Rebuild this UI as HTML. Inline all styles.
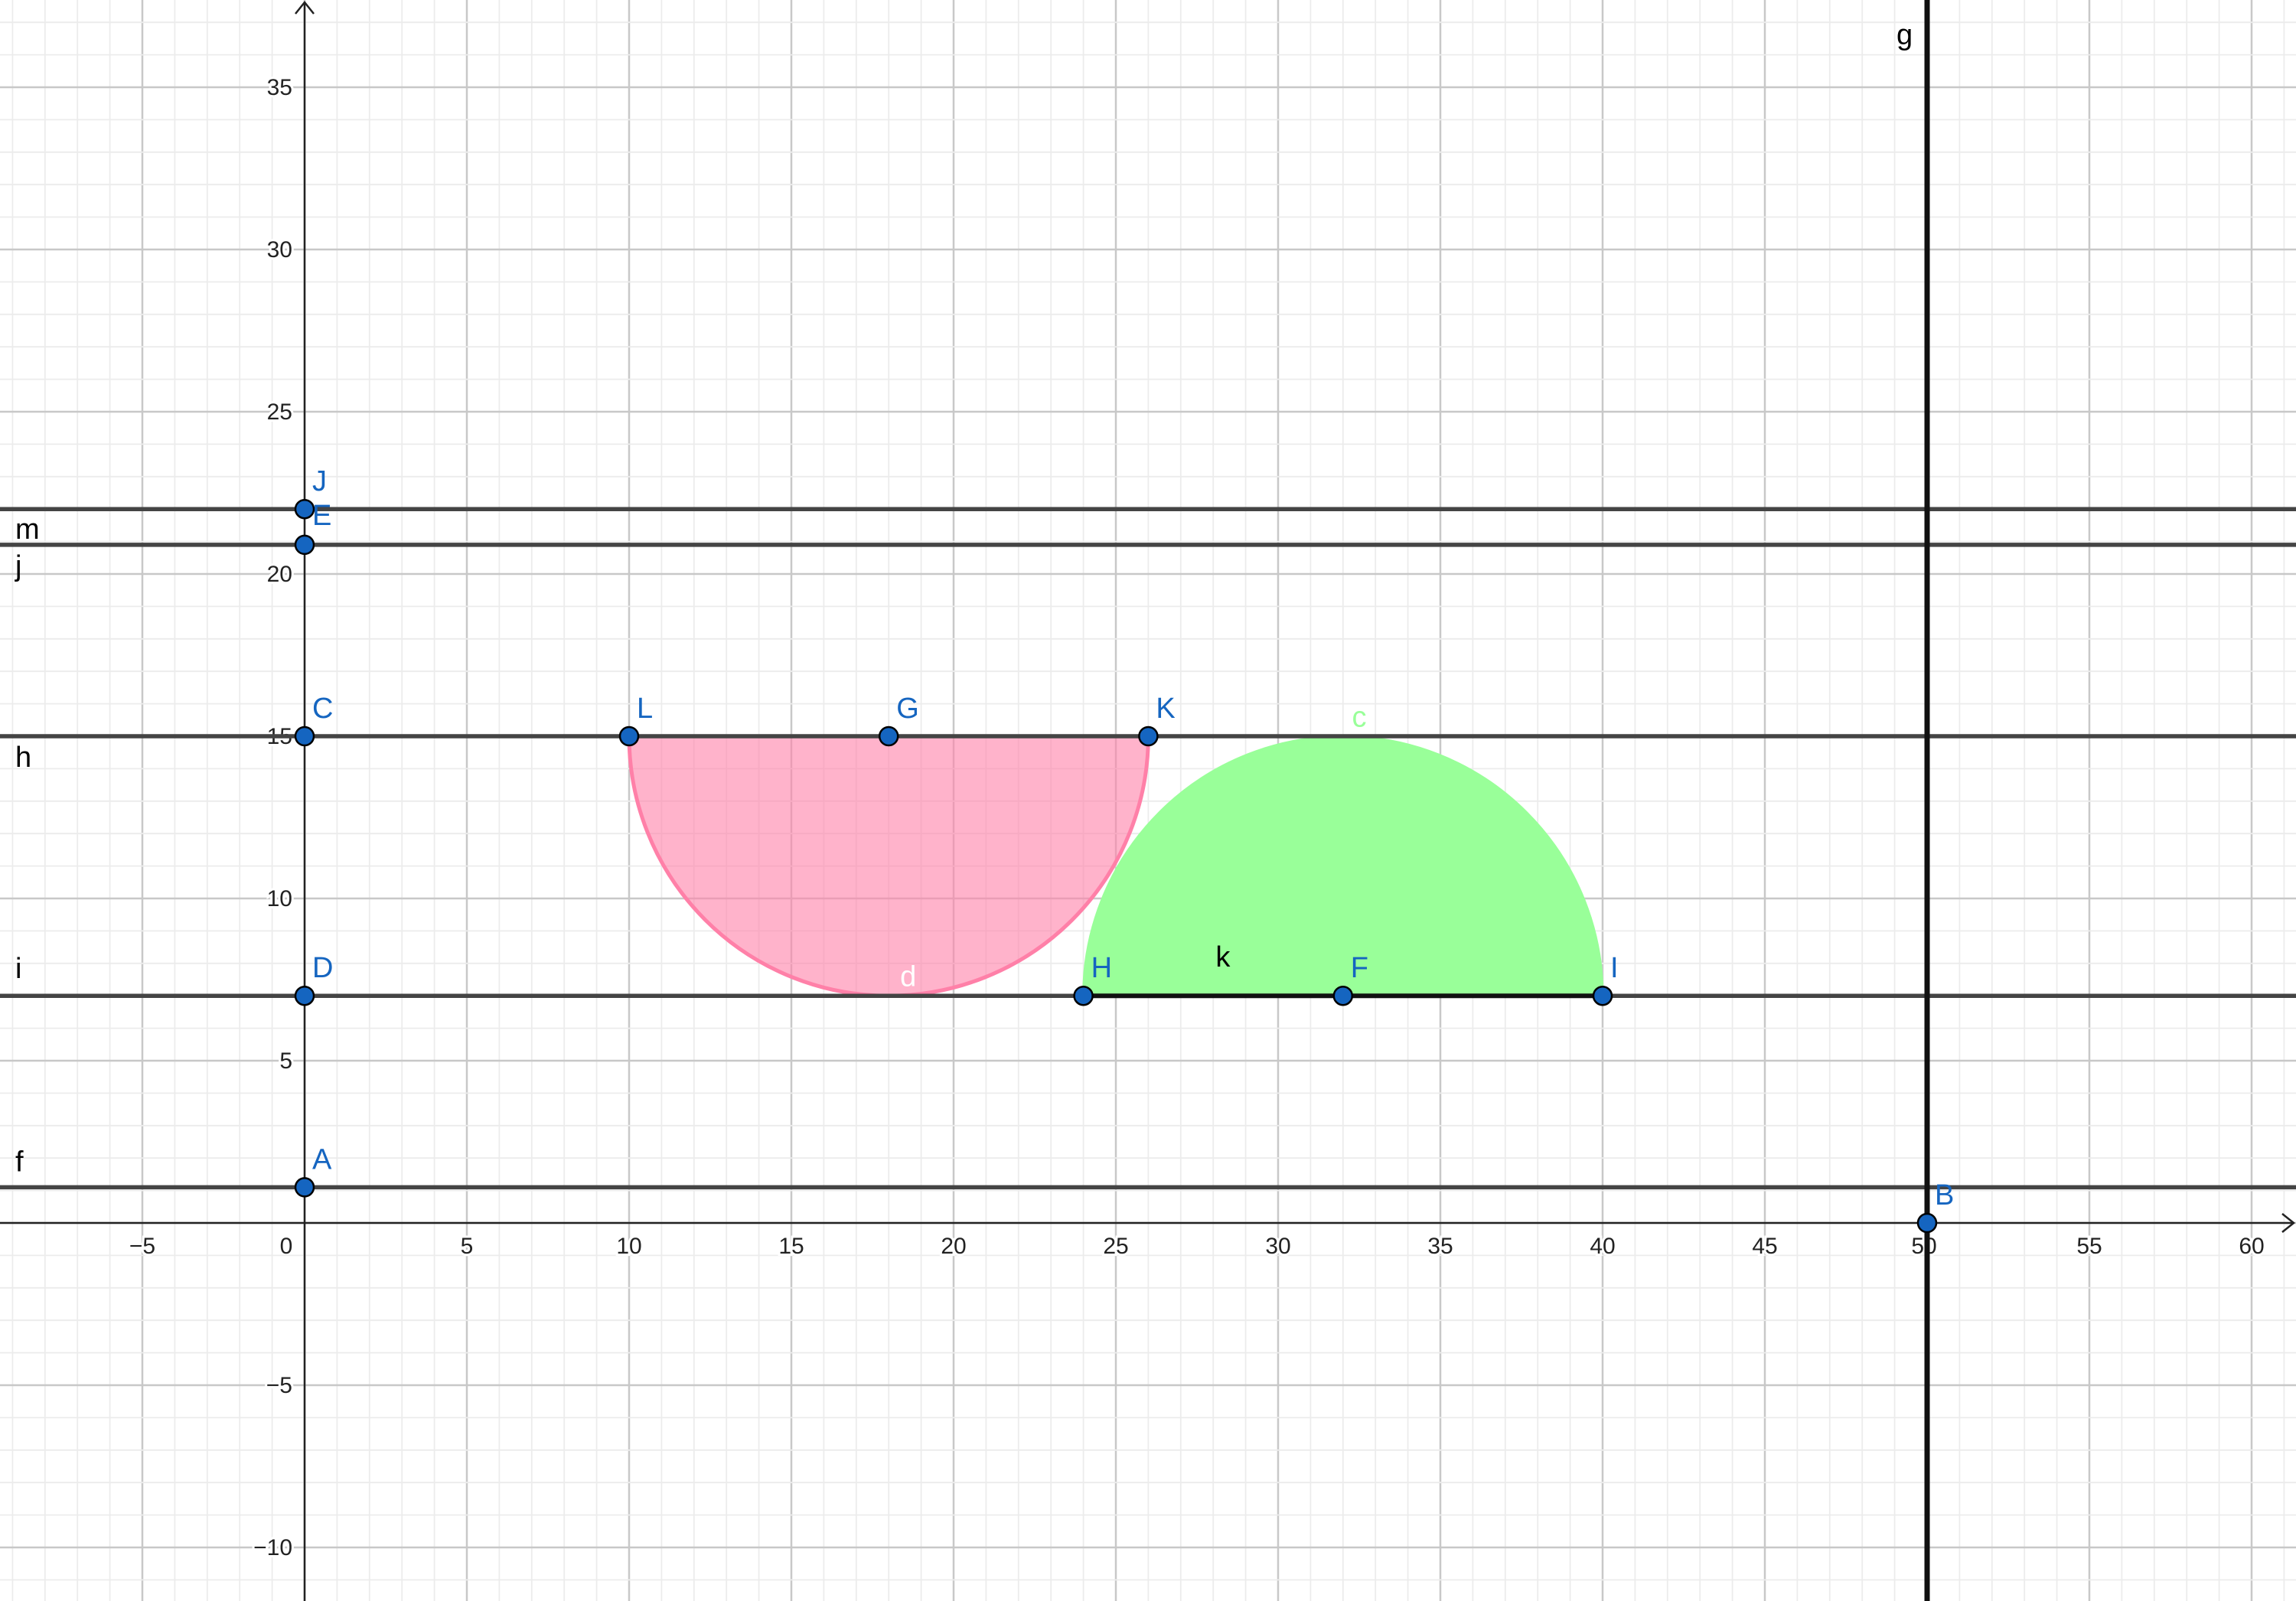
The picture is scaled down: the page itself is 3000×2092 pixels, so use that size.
<!DOCTYPE html>
<html><head><meta charset="utf-8"><style>
html,body{margin:0;padding:0;background:#fff}
svg{display:block}
text{font-family:"Liberation Sans","DejaVu Sans",sans-serif}
</style></head><body>
<svg id="chart" width="3000" height="2092" viewBox="0 0 3000 2092" xmlns="http://www.w3.org/2000/svg"></svg>
<script>
const xTicks = [-5,5,10,15,20,25,30,35,40,45,50,55,60];
const yTicks = [-10,-5,5,10,15,20,25,30,35];
const hLineNames = ["m","j","h","i","f"];
const hLineYs = [22,20.9,15,7,1.1];
const pointNames = ["J","E","C","L","G","K","D","H","F","I","A","B"];
const pointXs = [0,0,0,10,18,26,0,24,32,40,0,50];
const pointYs = [22,20.9,15,15,15,15,7,7,7,7,1.1,0];
const vLineX = [50];
const pinkArc = [18,15,8];   // cx, cy, r (lower half)
const greenArc = [32,7,8];   // cx, cy, r (upper half)

const W=3000,H=2092,X0=398,Y0=1598,U=42.4;
const X=x=>X0+U*x, Y=y=>Y0-U*y;
const ns="http://www.w3.org/2000/svg";
const svg=document.getElementById('chart');
function mk(tag,attrs,parent){const e=document.createElementNS(ns,tag);for(const k in attrs)e.setAttribute(k,attrs[k]);(parent||svg).appendChild(e);return e;}

// grid
const grid=mk('g',{});


for(let i=-10;i<=62;i++){const x=X(i);if(x<0||x>W)continue;mk('line',{x1:x,y1:0,x2:x,y2:H,stroke:i%5===0?'#c8c8c8':'#ececec','stroke-width':i%5===0?2.5:1.8},grid);}
for(let j=-12;j<=38;j++){const y=Y(j);if(y<0||y>H)continue;mk('line',{x1:0,y1:y,x2:W,y2:y,stroke:j%5===0?'#c8c8c8':'#ececec','stroke-width':j%5===0?2.5:1.8},grid);}

// axes
const xa=mk('line',{x1:0,y1:Y0,x2:W-4,y2:Y0,stroke:'#222','stroke-width':2.5});


mk('path',{d:`M${W-18},${Y0-12} L${W-3},${Y0} L${W-18},${Y0+12}`,fill:'none',stroke:'#222','stroke-width':2.5});
const ya=mk('line',{x1:X0,y1:4,x2:X0,y2:H,stroke:'#222','stroke-width':2.5});


mk('path',{d:`M${X0-12},18 L${X0},3 L${X0+12},18`,fill:'none',stroke:'#222','stroke-width':2.5});

xTicks.forEach(v=>{const t=mk('text',{x:X(v)-(v===50?4:0),y:Y0+40,'font-size':30,'text-anchor':'middle',fill:'#222',stroke:'#fff','stroke-width':6,'paint-order':'stroke'});t.textContent=v<0?'\u2212'+(-v):v;

});
{const t=mk('text',{x:X0-24,y:Y0+40,'font-size':30,'text-anchor':'middle',fill:'#222'});t.textContent='0';

}
yTicks.forEach(v=>{const t=mk('text',{x:X0-16,y:Y(v)+10,'font-size':30,'text-anchor':'end',fill:'#222',stroke:'#fff','stroke-width':6,'paint-order':'stroke'});t.textContent=v<0?'\u2212'+(-v):v;

});

// semicircles
{const [cx,cy,r]=pinkArc;const p=mk('path',{d:`M${X(cx-r)},${Y(cy)} A${U*r},${U*r} 0 0 0 ${X(cx+r)},${Y(cy)} Z`,fill:'#ff80a8','fill-opacity':0.6,stroke:'#ff80a8','stroke-width':5});

}
{const [cx,cy,r]=greenArc;const p=mk('path',{d:`M${X(cx-r)},${Y(cy)} A${U*r},${U*r} 0 0 1 ${X(cx+r)},${Y(cy)} Z`,fill:'#99ff99',stroke:'#99ff99','stroke-width':3});

}

// horizontal lines
const labelOff=[39,40,40,-23,-21];
hLineYs.forEach((v,i)=>{const l=mk('line',{x1:0,y1:Y(v),x2:W,y2:Y(v),stroke:'#444','stroke-width':5.5});


const t=mk('text',{x:20,y:Y(v)+labelOff[i],'font-size':38,fill:'#000'});t.textContent=hLineNames[i];

});
// segment k
{const l=mk('line',{x1:X(24),y1:Y(7),x2:X(40),y2:Y(7),stroke:'#111','stroke-width':6});

}
// vertical line g
vLineX.forEach(v=>{const l=mk('line',{x1:X(v),y1:0,x2:X(v),y2:H,stroke:'#111','stroke-width':7});


const t=mk('text',{x:X(v)-40,y:58,'font-size':38,fill:'#000'});t.textContent='g';

});

// object labels
[['c',32.5,15.3,'#99ff99'],['d',18.6,7.3,'#fff'],['k',28.3,7.9,'#000']].forEach(a=>{const t=mk('text',{x:X(a[1]),y:Y(a[2]),'font-size':38,'text-anchor':'middle',fill:a[3]});t.textContent=a[0];

});

// points
pointNames.forEach((n,i)=>{const c=mk('circle',{cx:X(pointXs[i]),cy:Y(pointYs[i]),r:12,fill:'#1565c0',stroke:'#000','stroke-width':2.5});


const t=mk('text',{x:X(pointXs[i])+10,y:Y(pointYs[i])-24+(n==='E'?-2:0),'font-size':38,fill:'#1565c0'});t.textContent=n;

});
</script>
</body></html>
